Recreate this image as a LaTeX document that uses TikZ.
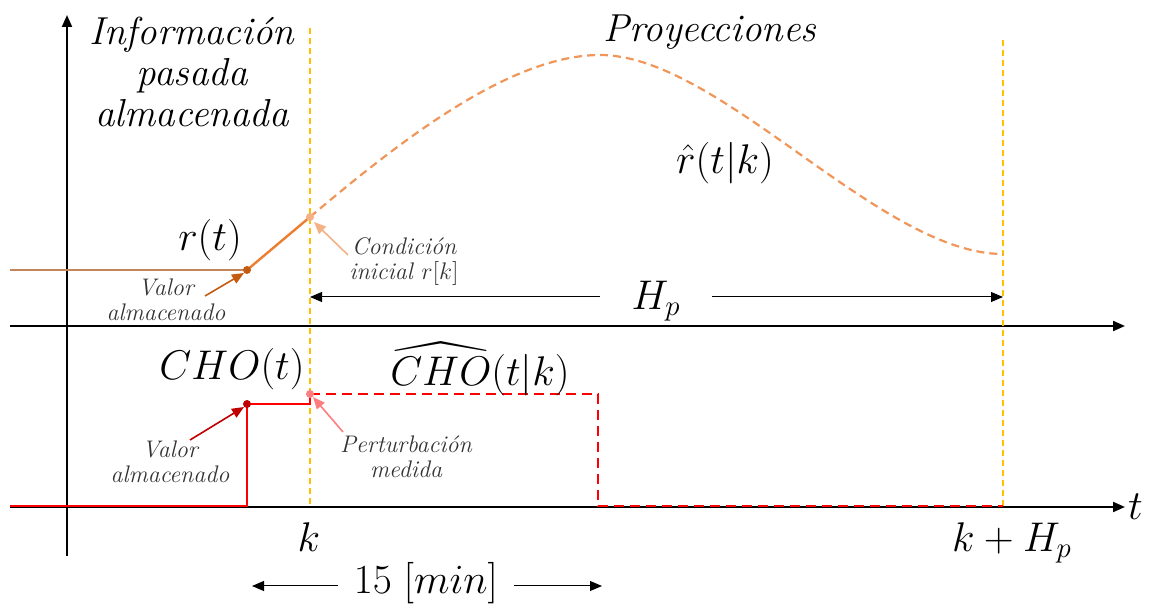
\documentclass[tikz,border=0pt]{standalone}
\usepackage{amsmath,amssymb}
\usetikzlibrary{arrows.meta}
\definecolor{rpast}{RGB}{197,133,90}
\definecolor{rline}{RGB}{237,125,49}
\definecolor{rproj}{RGB}{240,150,90}
\definecolor{rdark}{RGB}{197,90,17}
\definecolor{rlight}{RGB}{244,177,131}
\definecolor{ydash}{RGB}{255,192,0}
\definecolor{cred}{RGB}{255,0,0}
\definecolor{cdark}{RGB}{192,0,0}
\definecolor{clight}{RGB}{255,124,128}

\begin{document}
\begin{tikzpicture}[x=0.5pt,y=-0.5pt,>={Triangle[length=6pt,width=5pt]},
  big/.style={font=\fontsize{19.5}{20.5}\selectfont,inner sep=1pt},
  small/.style={font=\fontsize{12}{12.5}\selectfont\itshape,text=black!80,align=center,inner sep=1pt},
  yline/.style={ydash,line width=0.9pt,dash pattern=on 3pt off 2pt}]
\useasboundingbox (0,0) rectangle (1153,609);
% axes
\draw[line width=1pt,->] (67,556)--(67,15);
\draw[line width=1pt,->] (10,326)--(1125,326);
\draw[line width=1pt,->] (10,507)--(1125,507) node[right,big] (tlab) {$t$};
\draw[yline] (310,28)--(310,507);
\draw[yline] (1003,40)--(1003,510);
% r signal
\coordinate (rst) at (247,270); \coordinate (rk) at (310,217);
\draw[rpast,line width=1.2pt] (10,270)--(rst);
\draw[rline,line width=1.2pt] (rst)--(rk);
\draw[rproj,line width=1.1pt,dash pattern=on 4pt off 2.5pt] (rk) .. controls (400,141) and (510,55) .. (600,55) .. controls (720,55) and (880,254) .. (1003,254);
\fill[rdark] (rst) circle (2pt); \fill[rlight] (rk) circle (2pt);
% CHO signal
\coordinate (cst) at (247,404); \coordinate (ck) at (310,394);
\draw[cred,line width=1.1pt] (10,506)--(247,506)--(cst)--(310,404)--(ck);
\draw[cred,line width=1.1pt,dash pattern=on 5pt off 3pt] (ck)--(598,394)--(598,506)--(1003,506);
\fill[cdark] (cst) circle (2pt); \fill[clight] (ck) circle (2pt);
% labels
\node[big,align=center] (infolab) at (192,72) {\itshape Información\\\itshape pasada\\\itshape almacenada};
\node[big] (proylab) at (710,32) {\itshape Proyecciones};
\node[big] (rlab) at (210,240) {$r(t)$};
\node[big] (rhatlab) at (725,163) {$\hat{r}(t|k)$};
\node[big] (cholab) at (232,369) {$CHO(t)$};
\node[big] (chohatlab) at (480,369) {$\widehat{CHO}(t|k)$};
\node[big] (klab) at (309,537) {$k$};
\node[big] (khplab) at (1012,543) {$k+H_p$};
% horizons
\coordinate (hpL) at (310,297); \coordinate (hpR) at (1003,297);
\node[big,minimum width=56pt] (hplab) at (656,301) {$H_p$};
\draw[->,line width=0.5pt] (hplab.west|-hpL)--(hpL);
\draw[->,line width=0.5pt] (hplab.east|-hpR)--(hpR);
\coordinate (minL) at (252,586); \coordinate (minR) at (602,586);
\node[big,minimum width=88pt] (minlab) at (426,583) {$15\ [min]$};
\draw[->,line width=0.5pt] (minlab.west|-minL)--(minL);
\draw[->,line width=0.5pt] (minlab.east|-minR)--(minR);
% callouts
\node[small] (valr) at (166,300) {Valor\\almacenado};
\coordinate (valrtail) at (205,296);
\draw[->,rdark,line width=0.8pt] (valrtail)--(244,273);
\node[small] (condk) at (404,262) {Condición\\inicial $r[k]$};
\coordinate (condtail) at (348,255);
\draw[->,rlight,line width=0.8pt] (condtail)--(314,222);
\node[small] (valc) at (170,462) {Valor\\almacenado};
\coordinate (valctail) at (190,440);
\draw[->,cdark,line width=0.8pt] (valctail)--(244,407);
\node[small] (pert) at (406,457) {Perturbación\\medida};
\coordinate (perttail) at (343,432);
\draw[->,clight,line width=0.8pt] (perttail)--(313,397);
\end{tikzpicture}
\end{document}
